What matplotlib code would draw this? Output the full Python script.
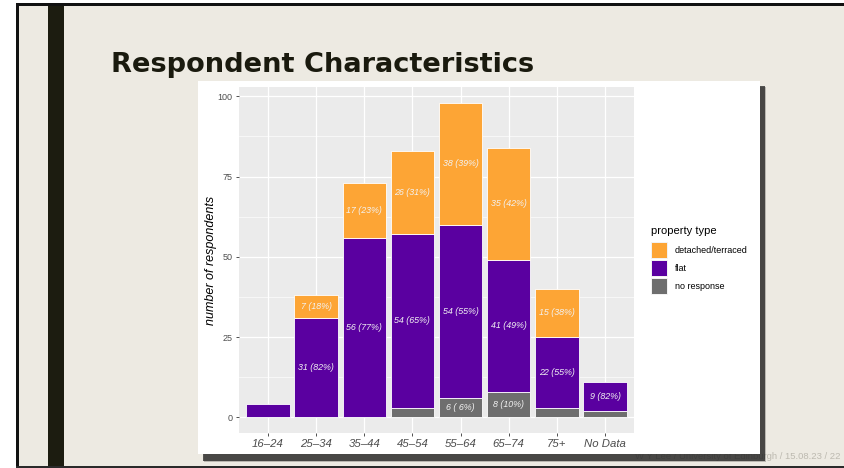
import matplotlib
matplotlib.use("Agg")
import matplotlib.pyplot as plt
from matplotlib.patches import Rectangle
import numpy as np

# ---- data ----
categories = ["16–24", "25–34", "35–44", "45–54", "55–64", "65–74", "75+", "No Data"]
no_response = [0, 0, 0, 3, 6, 8, 3, 2]
flat = [4, 31, 56, 54, 54, 41, 22, 9]
detached = [0, 7, 17, 26, 38, 35, 15, 0]
series_names = ["detached/terraced", "flat", "no response"]
y_ticks = [0, 25, 50, 75, 100]

title = "Respondent Characteristics"
footer = "W Y Lee / University of Edinburgh / 15.08.23 / 22"

# ---- styles ----
C_DET = "#FDA535"
C_FLAT = "#5A00A0"
C_NR = "#6E6E6E"
BG = "#EDEAE2"
FONT = ["Liberation Sans", "DejaVu Sans"]

W, H = 845, 468
fig = plt.figure(figsize=(W / 100, H / 100), dpi=100)
fig.patch.set_facecolor("white")


def fx(px):
    return px / W


def fy(py):
    return 1 - py / H


def frect(x0, y0, x1, y1, **kw):
    r = Rectangle((fx(x0), fy(y1)), (x1 - x0) / W, (y1 - y0) / H,
                  transform=fig.transFigure, **kw)
    fig.patches.append(r)
    return r


# slide background and borders
frect(16, 3, 845, 467, facecolor=BG, edgecolor="none", zorder=0.1)
frect(16, 3, 845, 6, facecolor="#111111", edgecolor="none", zorder=0.2)
frect(16, 3, 19, 468, facecolor="#111111", edgecolor="none", zorder=0.2)
frect(16, 465.5, 845, 468, facecolor="#2a2a2a", edgecolor="none", zorder=0.2)
frect(48, 6, 64, 466, facecolor="#1C1C10", edgecolor="none", zorder=0.2)

# title
fig.text(fx(111), fy(72.5), title, fontsize=19.6, fontweight="bold",
         family="DejaVu Sans", color="#1A1A0E", ha="left", va="baseline",
         zorder=0.3)

# footer (partly hidden behind the plot image)
fig.text(fx(841), fy(456.5), footer, fontsize=6.8, family=FONT,
         color="#BDBAB0", ha="right", va="center", zorder=0.4)

# shadow + white plot image
frect(203, 86, 765.5, 460.5, facecolor="#222222", edgecolor="none",
      alpha=0.75, zorder=1.0)
frect(204, 87, 766.5, 461.5, facecolor="#222222", edgecolor="none",
      alpha=0.25, zorder=1.0)
frect(198, 81, 760, 454, facecolor="white", edgecolor="none", zorder=1.5)

# ---- plot panel ----
ax = fig.add_axes([fx(239), fy(433), (634 - 239) / W, (433 - 87) / H])
ax.set_zorder(2)
ax.set_facecolor("#EBEBEB")
x = np.arange(len(categories))
ax.set_xlim(-0.6, len(categories) - 1 + 0.6)
ax.set_ylim(-4.9, 102.9)

for v in y_ticks:
    ax.axhline(v, color="white", lw=0.9, zorder=0.5)
for v in [12.5, 37.5, 62.5, 87.5]:
    ax.axhline(v, color="white", lw=0.45, zorder=0.5)
for xi in x:
    ax.axvline(xi, color="white", lw=0.9, zorder=0.5)

stack = [(no_response, C_NR), (flat, C_FLAT), (detached, C_DET)]
bottom = np.zeros(len(categories))
totals = np.array(no_response) + np.array(flat) + np.array(detached)
for vals, col in stack:
    vals = np.array(vals, dtype=float)
    for i in range(len(categories)):
        if vals[i] <= 0:
            continue
        ax.bar(x[i], vals[i], bottom=bottom[i], width=0.9, color=col,
               edgecolor="white", linewidth=0.6, zorder=2)
        if vals[i] >= 5:
            pct = 100 * vals[i] / totals[i]
            lab = "%d (%2.0f%%)" % (vals[i], pct)
            ax.text(x[i], bottom[i] + vals[i] / 2, lab, ha="center",
                    va="center", fontsize=6.4, style="italic",
                    color="#F2F2F2", family=FONT, zorder=3)
    bottom += vals

for s in ax.spines.values():
    s.set_visible(False)
ax.set_yticks(y_ticks)
ax.set_yticklabels([str(v) for v in y_ticks], fontsize=6.5, family=FONT,
                   color="#4D4D4D")
ax.set_xticks(x)
ax.set_xticklabels(categories, fontsize=8.2, family=FONT, style="italic",
                   color="#4D4D4D")
ax.tick_params(axis="both", length=2.5, width=0.6, color="#333333", pad=2)

fig.text(fx(211), fy(260), "number of respondents", rotation=90,
         fontsize=9, style="italic", family=FONT, color="black",
         ha="center", va="center", zorder=3)

# ---- legend ----
fig.text(fx(651), fy(231), "property type", fontsize=8, family=FONT,
         color="black", ha="left", va="center", zorder=3)
key_cols = [C_DET, C_FLAT, C_NR]
for k, (name, col) in enumerate(zip(series_names, key_cols)):
    y0 = 242 + k * 18
    frect(651.5, y0, 668.5, y0 + 17, facecolor="#F2F2F2", edgecolor="none",
          zorder=2.5)
    frect(652.5, y0 + 1, 667.5, y0 + 16, facecolor=col, edgecolor="none",
          zorder=2.6)
    fig.text(fx(675), fy(y0 + 8.5), name, fontsize=6.5, family=FONT,
             color="black", ha="left", va="center", zorder=3)

fig.savefig("out.png", dpi=100)
